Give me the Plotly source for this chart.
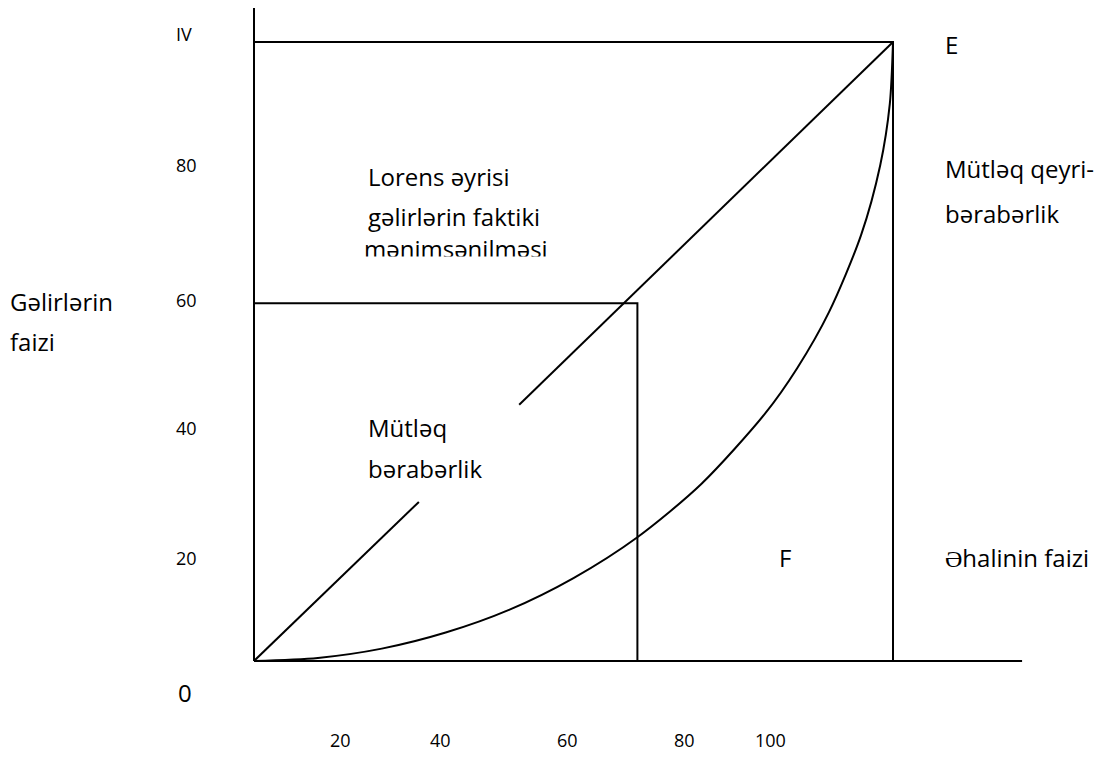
import plotly.graph_objects as go

# ---- data (percent units; outer square spans 0..100 on both axes) ----
curve_pop = [0, 10, 20, 30, 40, 50, 60, 70, 80, 85, 90, 95, 98, 99.5, 100]
curve_inc = [0, 0.5, 2.0, 4.6, 8.3, 13.4, 20.0, 28.6, 40.0, 47.3, 56.4, 68.8, 80.1, 90.0, 100]

equal_lo_x = [0, 25.8]
equal_lo_y = [0, 25.7]
equal_hi_x = [41.5, 100]
equal_hi_y = [41.4, 100]

share_x = [0, 60, 60]
share_y = [57.8, 57.8, 0]

top_x = [0, 100, 100]
top_y = [100, 100, 0]

yaxis_line_x = [0, 0]
yaxis_line_y = [105.5, 0]
xaxis_line_x = [0, 120.2]
xaxis_line_y = [0, 0]

left_ticks = ["IV", "80", "60", "40", "20"]
left_tick_pos = [101.3, 80.1, 58.3, 37.6, 16.6]
bottom_ticks = ["20", "40", "60", "80", "100"]
bottom_tick_pos = [13.5, 29.2, 49.0, 67.3, 80.8]

# reference-pixel helpers for placing free text (page has an 8px body margin)
SX, SY, OX, OY = 6.39, 6.19, 254, 661
def X(px):
    return (px - OX) / SX
def Y(py):
    return (OY - py) / SY

FONT = "Open Sans"
BIG = 24
SMALL = 18

line = dict(color="black", width=2)
fig = go.Figure()
for xs, ys in [(yaxis_line_x, yaxis_line_y), (xaxis_line_x, xaxis_line_y),
               (top_x, top_y), (share_x, share_y),
               (equal_lo_x, equal_lo_y), (equal_hi_x, equal_hi_y)]:
    fig.add_trace(go.Scatter(x=xs, y=ys, mode="lines", line=line,
                             hoverinfo="skip", showlegend=False))
fig.add_trace(go.Scatter(x=curve_pop, y=curve_inc, mode="lines",
                         line=dict(color="black", width=2, shape="spline", smoothing=0.8),
                         hoverinfo="skip", showlegend=False))

ann = []
def txt(s, px, py, size=BIG, anchor="left"):
    ann.append(dict(x=X(px), y=Y(py), text=s, showarrow=False, xanchor=anchor,
                    yanchor="middle", font=dict(family=FONT, size=size, color="black")))

for s, v in zip(left_ticks, left_tick_pos):
    ann.append(dict(x=X(174), y=v, text=s, showarrow=False, xanchor="left",
                    yanchor="middle", font=dict(family=FONT, size=SMALL, color="black")))
for s, v in zip(bottom_ticks, bottom_tick_pos):
    ann.append(dict(x=v, y=Y(740), text=s, showarrow=False, xanchor="center",
                    yanchor="middle", font=dict(family=FONT, size=SMALL, color="black")))

txt("0", 176, 692)
txt("Gəlirlərin", 8, 301)
txt("faizi", 8, 341)
txt("E", 943, 44)
txt("Mütləq qeyri-", 943, 168)
txt("bərabərlik", 943, 213)
txt("F", 777, 557)
txt("Əhalinin faizi", 943, 557)
txt("Lorens əyrisi", 366, 176)
txt("gəlirlərin faktiki", 366, 216)
txt("Mütləq", 366, 427)
txt("bərabərlik", 366, 468)

# clipped third line of the Lorenz label
fig.add_trace(go.Scatter(x=[X(364)], y=[Y(252)], mode="text", text=["mənimsənilməsi"],
                         textposition="middle right",
                         textfont=dict(family=FONT, size=BIG, color="black"),
                         hoverinfo="skip", showlegend=False))

fig.update_layout(
    width=1107, height=744, margin=dict(l=0, r=0, t=0, b=0),
    paper_bgcolor="white", plot_bgcolor="white",
    xaxis=dict(range=[X(8), X(1115)], visible=False, fixedrange=True),
    yaxis=dict(range=[Y(752), Y(8)], visible=False, fixedrange=True),
    annotations=ann,
    shapes=[dict(type="rect", xref="x", yref="y", layer="above",
                 x0=X(355), x1=X(585), y0=Y(272), y1=Y(256.5),
                 fillcolor="white", line=dict(width=0))],
)
fig.write_html("out.html")
